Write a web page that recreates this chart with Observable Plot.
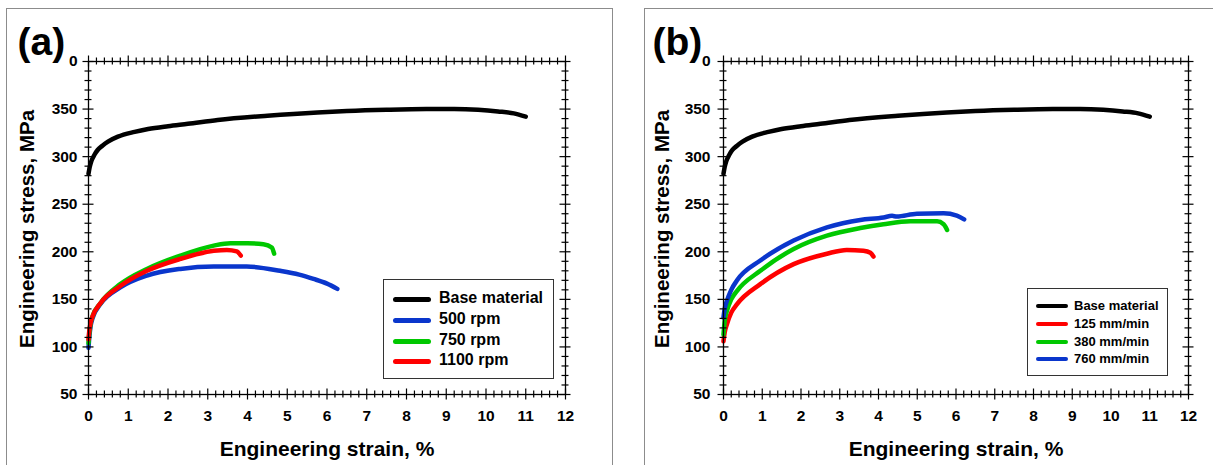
<!DOCTYPE html>
<html><head><meta charset="utf-8">
<script src="https://cdn.jsdelivr.net/npm/d3@7"></script>
<script src="https://cdn.jsdelivr.net/npm/@observablehq/plot@0.6"></script>
<style>
body{margin:0;background:#fff;font-family:"Liberation Sans",Arial,sans-serif;}
#root{position:relative;width:1213px;height:465px;overflow:hidden;background:#fff;}
.frame{position:absolute;border:1px solid #8c8c8c;}
.svgwrap{position:absolute;top:0;}
.svgwrap svg{overflow:visible;display:block;}
.legend{position:absolute;border:1.5px solid #333;background:#fff;box-sizing:border-box;}
.sw{position:absolute;border-radius:3px;}
.lt{position:absolute;font-weight:bold;white-space:nowrap;line-height:1;}
</style>
</head><body><div id="root"></div>
<script>
// ---------- data ----------
const xTicks = [0,1,2,3,4,5,6,7,8,9,10,11,12];
const xTickLabels = ["0","1","2","3","4","5","6","7","8","9","10","11","12"];
const yTicks = [50,100,150,200,250,300,350,400];
const yTickLabels = ["50","100","150","200","250","300","350","0"];

const baseStrain = [0,0.03,0.07,0.15,0.23,0.35,0.49,0.74,1.16,1.5,2,2.5,3.25,4.5,5.76,6.5,7.5,8.5,9.2,9.8,10.3,10.7,11];
const baseStress = [282,289,295,302,307,311.5,315.8,321,326,329,332,334.5,338.5,343,346.5,348,349.3,350,350,349.2,347.5,345.5,342];

const rpm500Strain = [0,0.02,0.05,0.1,0.3,0.8,1.47,2.31,3.15,3.98,4.82,5.3,5.66,6,6.26];
const rpm500Stress = [99,110,121,130,145,162.5,175,182,184.5,184.5,180,176,171.5,166.5,161];
const rpm750Strain = [0,0.02,0.05,0.1,0.3,0.8,1.47,2.31,3.15,3.57,4.0,4.4,4.61,4.67];
const rpm750Stress = [104,114,124,132,146,166,182,196,206.5,209,209,208,204.5,198];
const rpm1100Strain = [0,0.02,0.05,0.1,0.3,0.8,1.47,2.31,3.15,3.48,3.73,3.83];
const rpm1100Stress = [108,117,125,132,146,164,180,192.5,201,202,200.5,196];

const mm760Strain = [0,0.03,0.09,0.2,0.35,0.95,1.81,2.67,3.53,4.13,4.35,4.47,4.99,5.68,6.02,6.21];
const mm760Stress = [131,140,148.7,160,170,190.8,211.8,225.7,233.5,236,237.8,237,240,240.4,238,234];
const mm380Strain = [0,0.03,0.09,0.2,0.35,0.95,1.81,2.67,3.53,4.13,4.82,5.51,5.68,5.77];
const mm380Stress = [113,127,138,150,159,180,203,217,225,229,232,232,229,223];
const mm125Strain = [0,0.03,0.09,0.2,0.35,0.95,1.81,2.67,3.18,3.61,3.79,3.87];
const mm125Stress = [106,115,124,136,145,166,187,198,202,201,199,195];

const xTitle = "Engineering strain, %";
const yTitle = "Engineering stress, MPa";

const C = {black:"#000000", blue:"#0a36cc", green:"#00c800", red:"#ff0000"};

const panels = [
  {label:"(a)", left:0, width:606, mL:88, mR:41, yPad:11,
   series:[
     {name:"Base material", strain:baseStrain, stress:baseStress, color:C.black},
     {name:"500 rpm", strain:rpm500Strain, stress:rpm500Stress, color:C.blue},
     {name:"750 rpm", strain:rpm750Strain, stress:rpm750Stress, color:C.green},
     {name:"1100 rpm", strain:rpm1100Strain, stress:rpm1100Stress, color:C.red}],
   legend:{left:383, top:279, w:171, h:100, swX:9, swW:38, swH:5, txX:55, rows:[19,40,61,81], fs:16}},
  {label:"(b)", left:606, width:607, mL:117, mR:25, yPad:13,
   series:[
     {name:"Base material", strain:baseStrain, stress:baseStress, color:C.black},
     {name:"125 mm/min", strain:mm125Strain, stress:mm125Stress, color:C.red},
     {name:"380 mm/min", strain:mm380Strain, stress:mm380Stress, color:C.green},
     {name:"760 mm/min", strain:mm760Strain, stress:mm760Stress, color:C.blue}],
   legend:{left:1027, top:288, w:141, h:88, swX:8, swW:32, swH:4, txX:46, rows:[17,35,53,70], fs:13}}
];

const root = document.getElementById("root");
// panel frames
[[6,8,605,480],[644,8,600,480]].forEach(([l,t,w,h])=>{
  const f=document.createElement("div"); f.className="frame";
  Object.assign(f.style,{left:l+"px",top:t+"px",width:w+"px",height:h+"px"});
  root.appendChild(f);
});

const H = 465, mT = 61, mB = 71;
const L1 = 5.5, L2 = 3.5;
const xMinor = d3.range(0, 12.0001, 0.2).filter(v => Math.abs(v - Math.round(v)) > 1e-6);
const yMinor = d3.range(50, 400.001, 10).filter(v => v % 50 !== 0);

panels.forEach(p => {
  const pw = p.width - p.mL - p.mR, ph = H - mT - mB;
  const tickMarks = [];
  [[xTicks,L1],[xMinor,L2]].forEach(([vals,L])=>{
    tickMarks.push(Plot.tickX(vals,{x:d=>d, insetTop:ph-L, insetBottom:-L, stroke:"#000", strokeWidth:1.2}));
    tickMarks.push(Plot.tickX(vals,{x:d=>d, insetTop:-L, insetBottom:ph-L, stroke:"#000", strokeWidth:1.2}));
  });
  [[yTicks,L1],[yMinor,L2]].forEach(([vals,L])=>{
    tickMarks.push(Plot.tickY(vals,{y:d=>d, insetLeft:-L, insetRight:pw-L, stroke:"#000", strokeWidth:1.2}));
    tickMarks.push(Plot.tickY(vals,{y:d=>d, insetLeft:pw-L, insetRight:-L, stroke:"#000", strokeWidth:1.2}));
  });
  const lines = p.series.map(s => Plot.line(s.strain.map((x,i)=>({strain:x, stress:s.stress[i]})),
      {x:"strain", y:"stress", stroke:s.color, strokeWidth:4.5, curve:"monotone-x"}));
  const chart = Plot.plot({
    width:p.width, height:H, marginLeft:p.mL, marginRight:p.mR, marginTop:mT, marginBottom:mB,
    style:{fontFamily:'"Liberation Sans", Arial, sans-serif', background:"transparent", color:"#000", overflow:"visible"},
    x:{domain:[0,12], label:null},
    y:{domain:[50,400], label:null},
    marks:[
      ...lines,
      Plot.frame({stroke:"#000", strokeWidth:1.3}),
      ...tickMarks,
      Plot.axisX({ticks:xTicks, tickSize:0, tickPadding:15, fontSize:15.5, fontWeight:"bold", label:null,
        tickFormat:d=>xTickLabels[xTicks.indexOf(d)]}),
      Plot.axisY({ticks:yTicks, tickSize:0, tickPadding:p.yPad, fontSize:15.5, fontWeight:"bold", label:null,
        tickFormat:d=>yTickLabels[yTicks.indexOf(d)]}),
      Plot.text([xTitle],{text:d=>d, frameAnchor:"bottom", dy:55, lineAnchor:"middle", textAnchor:"middle", fontSize:21, fontWeight:"bold"}),
      Plot.text([yTitle],{text:d=>d, frameAnchor:"left", dx:-61, dy:1, rotate:-90, textAnchor:"middle", lineAnchor:"middle", fontSize:20.5, fontWeight:"bold"}),
      Plot.text([p.label],{text:d=>d, frameAnchor:"top-left", dx:-71, dy:-19, textAnchor:"start", lineAnchor:"middle", fontSize:39, fontWeight:"bold",
        fontFamily:'"Liberation Sans Narrow", "Liberation Sans", Arial, sans-serif'})
    ]
  });
  const wrap = document.createElement("div"); wrap.className="svgwrap";
  wrap.style.left = p.left + "px";
  wrap.appendChild(chart);
  root.appendChild(wrap);

  // legend
  const lg = p.legend;
  const box = document.createElement("div"); box.className="legend";
  Object.assign(box.style,{left:lg.left+"px", top:lg.top+"px", width:lg.w+"px", height:lg.h+"px"});
  p.series.forEach((s,i)=>{
    const sw=document.createElement("div"); sw.className="sw";
    Object.assign(sw.style,{left:lg.swX+"px", top:(lg.rows[i]-lg.swH/2)+"px", width:lg.swW+"px", height:lg.swH+"px", background:s.color});
    const t=document.createElement("div"); t.className="lt"; t.textContent=s.name;
    Object.assign(t.style,{left:lg.txX+"px", top:(lg.rows[i]-lg.fs*0.55)+"px", fontSize:lg.fs+"px"});
    box.appendChild(sw); box.appendChild(t);
  });
  root.appendChild(box);
});
</script></body></html>
